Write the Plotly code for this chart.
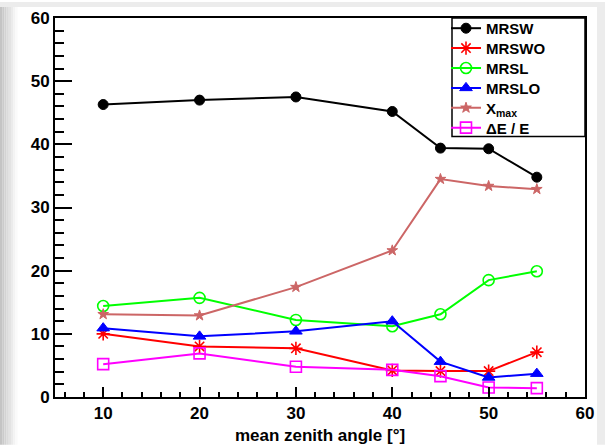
import plotly.graph_objects as go

angles = [10, 20, 30, 40, 45, 50, 55]
mrsw = [46.3, 47.0, 47.5, 45.2, 39.4, 39.3, 34.8]
mrswo = [10.0, 8.0, 7.7, 4.2, 4.1, 4.1, 7.1]
mrsl = [14.4, 15.7, 12.2, 11.2, 13.1, 18.5, 19.9]
mrslo = [10.9, 9.6, 10.4, 12.0, 5.6, 3.1, 3.7]
xmax = [13.1, 12.9, 17.4, 23.2, 34.5, 33.4, 32.9]
dee = [5.2, 6.9, 4.8, 4.3, 3.3, 1.5, 1.4]

series = [
    ("MRSW", mrsw, "#000000", "circle", 10, 1),
    ("MRSWO", mrswo, "#ff0000", "asterisk-open", 11, 1.6),
    ("MRSL", mrsl, "#00ff00", "circle-open", 11, 1.6),
    ("MRSLO", mrslo, "#0000ff", "triangle-up", 11, 1),
    ("X<sub>max</sub>", xmax, "#cc6666", "star", 8, 1),
    ("\u0394E / E", dee, "#ff00ff", "square-open", 11, 1.6),
]

W, H = 605, 445
L, R, T, B = 55, 20, 16, 48
pw = W - L - R
ph = H - T - B

def px(x):
    return (x - L) / pw

def py(y):
    return 1 - (y - T) / ph

fig = go.Figure()
legends = {}
for i, (name, vals, col, sym, size, lw) in enumerate(series):
    lname = "legend" if i == 0 else f"legend{i + 1}"
    fig.add_trace(go.Scatter(
        x=angles, y=vals, name=name, mode="lines+markers",
        line=dict(color=col, width=2),
        marker=dict(symbol=sym, size=size, color=col, line=dict(color=col, width=lw)),
        legend=lname,
    ))
    legends[lname] = dict(x=px(446), xanchor="left", y=py(26.5 + 20 * i), yanchor="middle",
                          bgcolor="rgba(0,0,0,0)", borderwidth=0,
                          font=dict(size=15, weight="bold", color="black"))

shapes = []
# screenshot background artefacts
shapes.append(dict(type="rect", xref="paper", yref="paper", x0=px(0), x1=px(W), y0=py(0), y1=py(5),
                   fillcolor="#ececec", line=dict(width=0), layer="below"))
shapes.append(dict(type="rect", xref="paper", yref="paper", x0=px(597), x1=px(W), y0=py(0), y1=py(H),
                   fillcolor="#ececec", line=dict(width=0), layer="below"))
grays = ["#c4c4c4", "#cbcbcb", "#d3d3d3", "#dbdbdb", "#e3e3e3", "#ebebeb", "#f3f3f3", "#fafafa"]
for i, g in enumerate(grays):
    shapes.append(dict(type="rect", xref="paper", yref="paper", x0=px(i * 2.2), x1=px((i + 1) * 2.2),
                       y0=py(5), y1=py(H), fillcolor=g, line=dict(width=0), layer="below"))
# legend box
shapes.append(dict(type="rect", xref="paper", yref="paper", x0=px(452), x1=px(585), y0=py(16), y1=py(135),
                   fillcolor="white", line=dict(color="black", width=1.5), layer="above"))

fig.update_layout(
    width=W, height=H,
    margin=dict(l=L, r=R, t=T, b=B),
    paper_bgcolor="white", plot_bgcolor="white",
    font=dict(family="Liberation Sans, Arial, sans-serif", color="black"),
    shapes=shapes,
    showlegend=True,
    **legends,
)

fig.update_xaxes(
    range=[5, 60], tick0=0, dtick=10, ticks="inside", ticklen=10, tickwidth=1.5, tickcolor="black",
    minor=dict(dtick=2, ticks="inside", ticklen=5, tickwidth=1.5, tickcolor="black"),
    showline=True, mirror=True, linecolor="black", linewidth=2,
    showgrid=False, zeroline=False, automargin=False,
    tickfont=dict(size=17, weight="bold"),
    title=dict(text="mean zenith angle [\u00b0]", font=dict(size=17, weight="bold"), standoff=8),
)
fig.update_yaxes(
    range=[0, 60], tick0=0, dtick=10, ticks="inside", ticklen=17, tickwidth=1.5, tickcolor="black",
    minor=dict(dtick=2, ticks="inside", ticklen=9, tickwidth=1.5, tickcolor="black"),
    showline=True, mirror=True, linecolor="black", linewidth=2,
    showgrid=False, zeroline=False, automargin=False,
    tickfont=dict(size=17, weight="bold"),
)

fig.write_html("out.html", config={"displayModeBar": False},
               post_script="document.body.style.margin='0';document.body.style.overflow='hidden';")
